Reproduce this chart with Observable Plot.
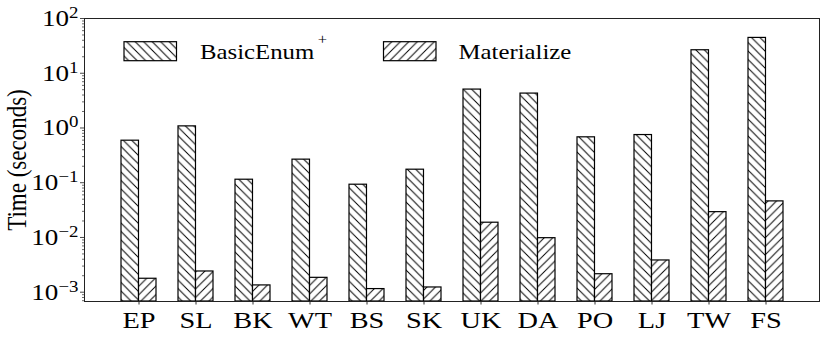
<!DOCTYPE html>
<html><head><meta charset="utf-8">
<script src="https://cdn.jsdelivr.net/npm/d3@7"></script>
<script src="https://cdn.jsdelivr.net/npm/@observablehq/plot@0.6"></script>
<style>body{margin:0;background:#fff}</style>
</head><body><div id="chart"></div>
<script>
const categories = ["EP","SL","BK","WT","BS","SK","UK","DA","PO","LJ","TW","FS"];
const basicEnum = [0.586,1.07,0.1135,0.264,0.092,0.173,5.03,4.25,0.675,0.743,26.3,44.2];
const materialize = [0.00176,0.00239,0.00133,0.00183,0.00114,0.00122,0.0186,0.0097,0.00213,0.0038,0.029,0.0456];
const seriesNames = ["BasicEnum", "Materialize"];
const majorTicks = [1e-3,1e-2,1e-1,1e0,1e1,1e2];
const yLabel = "Time (seconds)";
const yMin = Math.pow(10,-3.17), yMax = 100;

const FONT = "Liberation Serif";
const W=830,H=342, mL=84, mR=11, mT=18, mB=41;
const padIn=0.392, padOut=0.576;
const step = (W-mL-mR)/(categories.length - padIn + 2*padOut);
const half = step*(1-padIn)/2;

const minorTicks = [];
for (let e=-4;e<2;e++) for (let m=2;m<10;m++){ const v=+(m*Math.pow(10,e)).toPrecision(3); if (v>=yMin && v<=yMax) minorTicks.push(v); }

const rows = categories.map((c,i)=>({cat:c, be:basicEnum[i], mat:materialize[i]}));

const svg = Plot.plot({
  width:W, height:H, marginLeft:mL, marginRight:mR, marginTop:mT, marginBottom:mB,
  style:{fontFamily:FONT, fontSize:"23px", color:"black", background:"white"},
  x:{type:"band", domain:categories, paddingInner:padIn, paddingOuter:padOut, label:null},
  y:{type:"log", domain:[yMin,yMax], label:null},
  marks:[
    Plot.barY(rows,{x:"cat", y1:yMin, y2:"be", insetRight:half, fill:"url(#hb)", stroke:"black", strokeWidth:1.2}),
    Plot.barY(rows,{x:"cat", y1:yMin, y2:"mat", insetLeft:half, fill:"url(#hf)", stroke:"black", strokeWidth:1.2}),
    Plot.axisY({ticks:minorTicks, tickSize:2, text:null, stroke:"#444", strokeWidth:0.8}),
    Plot.axisY({ticks:majorTicks, tickSize:4, tickPadding:2, fontSize:23, stroke:"#333", strokeWidth:0.9,
      tickFormat:d=>"10^"+Math.round(Math.log10(d))}),
    Plot.axisX({tickSize:3.5, tickPadding:6, fontSize:24, stroke:"#333"}),
    Plot.frame({stroke:"#222", strokeWidth:1}),
    Plot.text([yLabel],{text:d=>d, frameAnchor:"left", textAnchor:"middle", rotate:-90, dx:-59, lineAnchor:"bottom", fontSize:23})
  ]
});

// hatch patterns
const s = 8.5;
const defs = d3.select(svg).insert("defs", ":first-child");
function pat(id, d){
  const p = defs.append("pattern").attr("id",id).attr("patternUnits","userSpaceOnUse").attr("width",s).attr("height",s);
  p.append("rect").attr("width",s).attr("height",s).attr("fill","white");
  p.append("path").attr("d",d).attr("stroke","black").attr("stroke-width",1).attr("fill","none");
}
pat("hb", `M0,0L${s},${s}M${s-2},-2L${s+2},2M-2,${s-2}L2,${s+2}`);
pat("hf", `M0,${s}L${s},0M-2,2L2,-2M${s-2},${s+2}L${s+2},${s-2}`);

// superscript tick labels
svg.querySelectorAll('g[aria-label="y-axis tick label"] text').forEach(t=>{
  const m = /^10\^(.*)$/.exec(t.textContent);
  if (!m) return;
  t.textContent = "10";
  const ts = document.createElementNS("http://www.w3.org/2000/svg","tspan");
  ts.setAttribute("font-size","16");
  ts.setAttribute("dy","-8");
  ts.textContent = m[1].replace("-","\u2212");
  t.appendChild(ts);
});

// legend
const leg = d3.select(svg).append("g")
  .style("font-family",FONT).style("font-size","21px").attr("text-anchor","start").attr("fill","black");
const legItems = [
  {name:seriesNames[0], fill:"url(#hb)", rx:124, tx:200, sup:"+"},
  {name:seriesNames[1], fill:"url(#hf)", rx:383.5, tx:458.5, sup:null}
];
legItems.forEach(it=>{
  leg.append("rect").attr("x",it.rx).attr("y",41.7).attr("width",52.5).attr("height",19)
    .attr("fill",it.fill).attr("stroke","black").attr("stroke-width",1.2);
  const t = leg.append("text").attr("transform",`translate(${it.tx},58.5)`)
    .style("font-family",FONT).style("font-size","21px").attr("fill","black").text(it.name);
  if (it.sup) t.append("tspan").style("font-size","14px").attr("dx",3).attr("dy",-15).text(it.sup);
});

// horizontal glyph stretch to match reference
const sx = 1.18;
svg.querySelectorAll("text").forEach(t=>{
  const tr = t.getAttribute("transform")||"";
  if (/rotate/.test(tr)) t.setAttribute("transform", tr+` scale(1,${sx})`);
  else t.setAttribute("transform", tr+` scale(${sx},1)`);
});

document.getElementById("chart").appendChild(svg);
</script>
</body></html>
